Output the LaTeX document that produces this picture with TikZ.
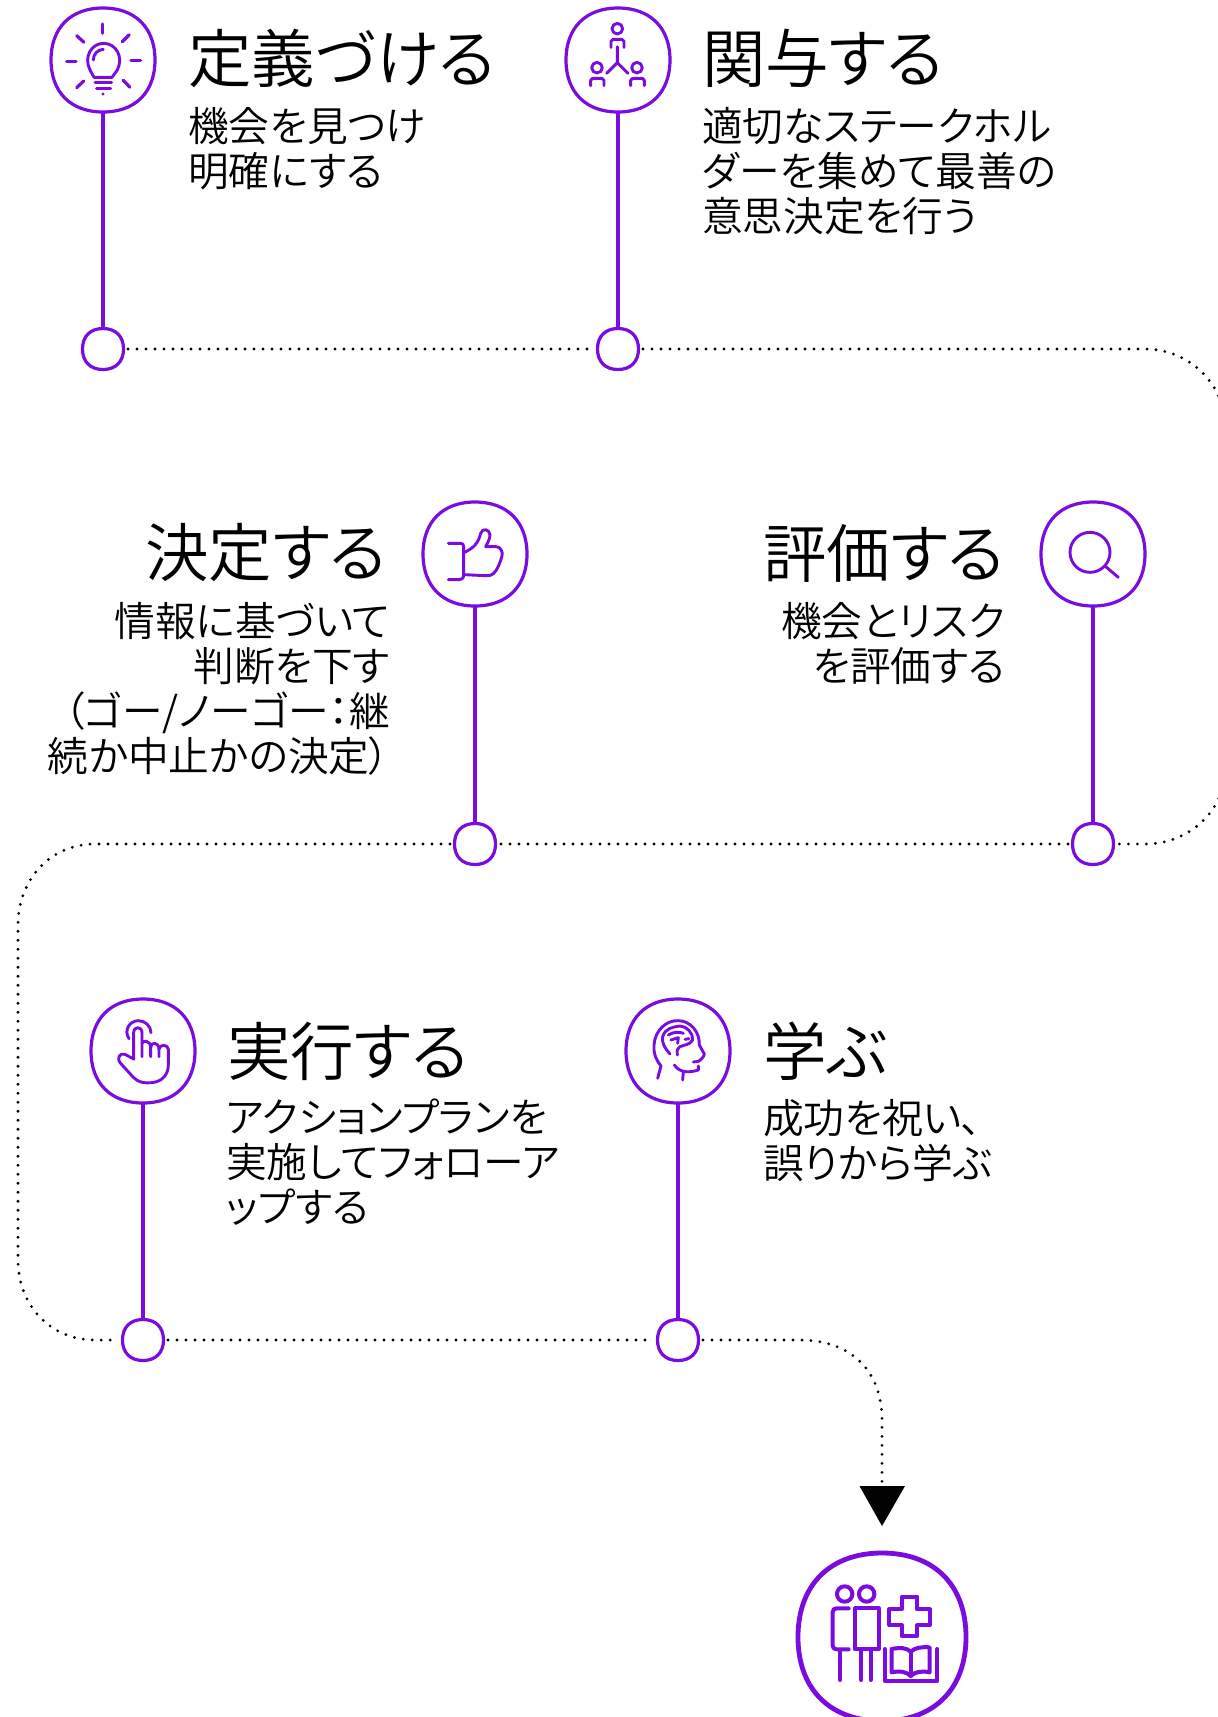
\documentclass[tikz,border=0pt]{standalone}
\usepackage{fontspec}
\setmainfont[RawFeature=+palt]{Noto Sans CJK JP DemiLight}
\definecolor{vio}{RGB}{122,12,224}
\tikzset{
  anchorbox/.style={circle,inner sep=0pt,minimum size=#1,outer sep=0pt},
  sq/.style={draw=vio,line width=3.2pt,fill=white},
  stem/.style={draw=vio,line width=4.4pt},
  ico/.style={draw=vio,line width=2.9pt,line cap=round,line join=round},
  dots/.style={draw=black,line width=3.1pt,line cap=round,dash pattern=on 0pt off 9pt},
  ttl/.style={inner sep=0pt,font=\fontsize{63.5}{66}\selectfont},
  bodyl/.style={inner sep=0pt,align=left,font=\fontsize{40.7}{45}\selectfont},
  bodyr/.style={inner sep=0pt,align=right,font=\fontsize{40.7}{45}\selectfont},
  zoomed/.style 2 args={xshift=#1pt,yshift=-#2pt,x=0.3333pt,y=-0.3333pt},
}
% squircle through the four extreme points of a named node
\newcommand{\squircle}[3][sq]{%
  \path[#1] ($(#2)+(#3,0)$)
    .. controls +(0,#3*.62) and +(#3*.62,0) .. ($(#2)+(0,#3)$)
    .. controls +(-#3*.62,0) and +(0,#3*.62) .. ($(#2)+(-#3,0)$)
    .. controls +(0,-#3*.62) and +(-#3*.62,0) .. ($(#2)+(0,-#3)$)
    .. controls +(#3*.62,0) and +(0,-#3*.62) .. cycle;}
\usetikzlibrary{calc,arrows.meta}
\begin{document}
\begin{tikzpicture}[x=1pt,y=-1pt]
\useasboundingbox (0,0) rectangle (1218,1717);
\clip (0,0) rectangle (1218,1717);
% anchors
\foreach \n/\xx/\yy in {i1/103/60,i2/618/60,i3/475/554,i4/1093/554,i5/143/1051,i6/678/1051}
  \node[anchorbox=105pt] (\n) at (\xx,\yy) {};
\foreach \n/\xx/\yy in {d1/103/349,d2/618/349,d3/475/844,d4/1093/844,d5/143/1340,d6/678/1340}
  \node[anchorbox=50pt] (\n) at (\xx,\yy) {};
\node[anchorbox=170pt] (big) at (882,1637) {};
% dotted route
\path[dots] (d1) -- (d2);
\path[dots] (d2) -- (1145,349) .. controls (1190,349) and (1226,385) .. (1226,430)
   -- (1226,765) .. controls (1226,810) and (1190,844) .. (1145,844) -- (d4);
\path[dots] (d4) -- (d3);
\path[dots] (d3) -- (95,844) .. controls (50,844) and (18,880) .. (18,925)
   -- (18,1260) .. controls (18,1305) and (50,1340) .. (95,1340) -- (d5);
\path[dots] (d5) -- (d6);
\coordinate (arr) at (882,1490);
\path[dots] (d6) -- (800,1340) .. controls (850,1340) and (882,1370) .. (882,1420) -- (arr);
\fill[black] (859.5,1486) -- (905,1486) -- (882,1526) -- cycle;
% stems
\foreach \k in {1,...,6}{\path[stem] (i\k.center) -- (d\k.center);}
% shapes
\foreach \k in {1,...,6}{\squircle{i\k}{52}\squircle{d\k}{20.5}}
\squircle[sq,line width=4.8pt]{big}{84}
% bulb
\begin{scope}[zoomed={30}{0}]
 \foreach \a/\b/\c/\d in {218/72/218/100,140/107/162/127,298/104/277/125,110/184/138/184,303/181/332/181,140/263/161/243,300/262/280/241}
   \path[ico,line width=3.2pt] (\a,\b) -- (\c,\d);
 \path[ico] (192,232) -- (180,210) .. controls (160,170) and (185,130) .. (221,130) .. controls (257,130) and (282,170) .. (262,210) -- (246,232) -- cycle;
 \path[ico] (190,180) .. controls (190,162) and (203,149) .. (220,148);
 \path[ico] (195,247) -- (245,247) (200,265) -- (242,265);
 \fill[vio] (219,282) circle (1.6pt);
\end{scope}
% stakeholders
\begin{scope}[zoomed={550}{0}]
 \draw[ico] (202,86) circle (5.3pt);
 \path[ico] (183,142) -- (183,124) -- ++(6,-6) -- (216,118) -- ++(6,6) -- (222,142);
 \path[ico] (202,140) -- (202,188) -- (170,220) (202,188) -- (234,220);
 \draw[ico] (141,203) circle (5.3pt);
 \path[ico] (122,257) -- (122,241) -- ++(6,-6) -- (156,235) -- ++(6,6) -- (162,257);
 \draw[ico] (261,203) circle (5.3pt);
 \path[ico] (242,257) -- (242,241) -- ++(6,-6) -- (277,235) -- ++(6,6) -- (283,257);
\end{scope}
% thumb
\begin{scope}[zoomed={410}{495}]
 \path[ico] (115,145) -- (152,145) .. controls (158,145) and (161,148) .. (161,154) -- (161,240) .. controls (161,250) and (155,254) .. (148,254) -- (115,254);
 \path[ico] (163,172) .. controls (190,160) and (205,145) .. (212,115) .. controls (216,98) and (240,102) .. (240,120) .. controls (240,132) and (232,145) .. (227,155) -- (258,155) .. controls (272,155) and (279,170) .. (276,183) .. controls (270,205) and (262,225) .. (250,236) .. controls (245,241) and (240,242) .. (225,242) -- (163,239);
\end{scope}
% magnifier
\begin{scope}[zoomed={1025}{495}]
 \draw[ico] (195,172) circle (20pt);
 \path[ico] (240,213) -- (280,247);
\end{scope}
% hand
\begin{scope}[zoomed={80}{990}]
 \path[ico] (147,146) .. controls (130,120) and (150,92) .. (175,92) .. controls (195,92) and (213,108) .. (213,128);
 \path[ico] (186,200) -- (186,128) .. controls (186,108) and (161,108) .. (161,128) -- (161,207) -- (135,193) .. controls (120,187) and (108,205) .. (122,220) -- (160,262) .. controls (175,278) and (195,280) .. (215,278) .. controls (250,275) and (265,250) .. (265,225) -- (265,178) .. controls (265,162) and (237,162) .. (237,178) -- (237,200);
 \path[ico] (237,178) .. controls (237,155) and (212,155) .. (212,172) -- (212,200);
 \path[ico] (212,172) .. controls (212,150) and (186,150) .. (186,160);
\end{scope}
% brain head
\begin{scope}[zoomed={615}{990}]
 \path[ico] (128,265) -- (138,228) .. controls (120,205) and (115,185) .. (117,165) .. controls (120,120) and (155,90) .. (190,92) .. controls (225,92) and (255,125) .. (253,165) -- (268,192) .. controls (268,200) and (255,212) .. (250,214) -- (235,216);
 \path[ico] (250,228) -- (250,240) .. controls (225,248) and (195,250) .. (178,225);
 \path[ico] (205,246) -- (203,270);
 \path[ico] (165,192) .. controls (150,175) and (140,160) .. (143,140) .. controls (150,115) and (175,110) .. (195,108) .. controls (215,108) and (235,130) .. (233,150) .. controls (225,165) and (205,165) .. (195,170) .. controls (185,178) and (185,185) .. (187,195);
 \path[ico] (160,135) .. controls (175,125) and (195,125) .. (205,130);
 \path[ico] (168,150) -- (190,143) -- (188,160);
 \path[ico] (210,148) -- (222,146);
\end{scope}
% big icon
\begin{scope}[zoomed={780}{1470}]
 \tikzset{ico/.append style={line width=4pt}}
 \draw[ico] (194,372) circle (7.7pt);
 \draw[ico] (260,372) circle (7.7pt);
 \path[ico] (206,415) -- (170,415) .. controls (162,415) and (158,419) .. (158,427) -- (158,526) .. controls (158,534) and (162,538) .. (170,538) -- (206,538);
 \path[ico] (225,415) -- (296,415) -- (296,538) -- (225,538) -- cycle;
 \path[ico] (180,540) -- (180,630) (244,540) -- (244,630) (272,540) -- (272,630);
 \path[ico] (365,380) -- (412,380) -- (412,418) -- (450,418) -- (450,465) -- (412,465) -- (412,498) -- (365,498) -- (365,465) -- (328,465) -- (328,418) -- (365,418) -- cycle;
 \path[ico] (314,537) -- (314,632) -- (472,632) -- (472,537);
 \path[ico] (335,537) -- (335,607) .. controls (360,602) and (380,605) .. (392,618) .. controls (405,605) and (425,602) .. (449,607) -- (449,532) .. controls (425,530) and (405,533) .. (392,545) .. controls (380,533) and (360,532) .. (335,537);
 \path[ico] (392,545) -- (392,618);
\end{scope}
% texts
\node[ttl,anchor=west] (t1) at (188,58) {定義づける};
\node[bodyl,anchor=north west] (b1) at (188,107.5) {機会を見つけ\\明確にする};
\node[ttl,anchor=west] (t2) at (702,58) {関与する};
\node[bodyl,anchor=north west] (b2) at (702,107.5) {適切なステークホル\\ダーを集めて最善の\\意思決定を行う};
\node[ttl,anchor=east] (t3) at (387,553) {決定する};
\node[bodyr,anchor=north east] (b3) at (390,602) {情報に基づいて\\判断を下す\\（ゴー/ノーゴー：継\\続か中止かの決定）};
\node[ttl,anchor=east] (t4) at (1005,553) {評価する};
\node[bodyr,anchor=north east] (b4) at (1005,602) {機会とリスク\\を評価する};
\node[ttl,anchor=west] (t5) at (227,1051) {実行する};
\node[bodyl,anchor=north west] (b5) at (226,1099) {アクションプランを\\実施してフォローア\\ップする};
\node[ttl,anchor=west] (t6) at (763,1051) {学ぶ};
\node[bodyl,anchor=north west] (b6) at (763,1099) {成功を祝い、\\誤りから学ぶ};
\end{tikzpicture}
\end{document}
